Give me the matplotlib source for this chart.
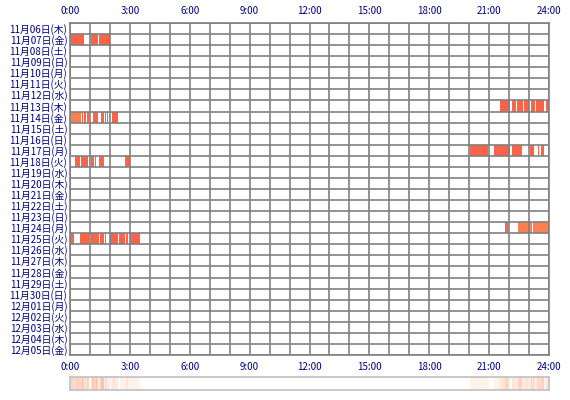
import numpy as np
import matplotlib
matplotlib.use('Agg')
import matplotlib.pyplot as plt
from matplotlib.colors import LinearSegmentedColormap
import datetime as dt

plt.rcParams['font.family'] = ['Noto Sans CJK JP', 'DejaVu Sans']

# ============ data ============
start = dt.date(2025, 11, 6)
n_days = 30
weekdays = ['月', '火', '水', '木', '金', '土', '日']
days = [start + dt.timedelta(d) for d in range(n_days)]
day_labels = [f"{d.month}月{d.day:02d}日({weekdays[d.weekday()]})" for d in days]

# sleep intervals (hours), by row index
sessions = {
    1: [(0.05, 0.7), (1.05, 1.4), (1.45, 2.0)],
    7: [(21.55, 22.03), (22.13, 22.33), (22.4, 22.7), (22.75, 23.0),
        (23.1, 23.3), (23.35, 23.73), (23.85, 23.95)],
    8: [(0.05, 0.55), (0.6, 0.65), (0.72, 0.78), (0.85, 0.93), (1.15, 1.4),
        (1.55, 1.7), (1.75, 1.8), (1.83, 1.9), (2.1, 2.4)],
    11: [(20.05, 20.97), (21.25, 22.03), (22.13, 22.63), (23.05, 23.25),
         (23.45, 23.52), (23.6, 23.75)],
    12: [(0.25, 0.5), (0.55, 0.92), (1.05, 1.2), (1.27, 1.32), (1.45, 1.7),
         (2.75, 3.0)],
    18: [(21.8, 21.93), (22.45, 23.15), (23.2, 24.0)],
    19: [(0.05, 0.18), (0.5, 0.95), (1.05, 1.43), (1.48, 1.7), (1.75, 1.82),
         (1.98, 2.28), (2.32, 2.4), (2.47, 2.73), (2.78, 2.9), (2.98, 3.48)],
}
light_rows = {(8, 0), (18, 1), (18, 2)}
tick_hours = list(range(0, 25, 3))
tick_labels = [f"{h}:00" for h in tick_hours]
# =================================

fig = plt.figure(figsize=(5.7, 4), dpi=100)
ax = fig.add_axes([0.123, 0.1125, 0.84, 0.83])

for row, segs in sessions.items():
    for i, (a, b) in enumerate(segs):
        c = '#ff7f50' if (row, i) in light_rows else '#ff6347'
        ax.barh(row, b - a, left=a, height=1.0, color=c, edgecolor='none', zorder=1)

ax.set_xlim(0, 24)
ax.set_ylim(n_days - 0.5, -0.5)
for h in range(25):
    ax.axvline(h, color='#808080', lw=1.2, zorder=2)
for r in range(n_days + 1):
    ax.axhline(r - 0.5, color='#808080', lw=1.2, zorder=2)
for s in ax.spines.values():
    s.set_color('#808080')
    s.set_linewidth(1.2)

ax.set_yticks(range(n_days))
ax.set_yticklabels(day_labels, fontsize=7, color='#000080')
ax.set_xticks(tick_hours)
ax.set_xticklabels(tick_labels, fontsize=7, color='#000080')
ax.tick_params(axis='both', length=0, pad=2)
ax.tick_params(axis='x', top=True, labeltop=True, pad=5)

# summary strip
minutes = np.arange(24 * 60)
count = np.zeros(len(minutes))
for segs in sessions.values():
    for a, b in segs:
        count[(minutes >= a * 60) & (minutes < b * 60)] += 1
sax = fig.add_axes([0.123, 0.025, 0.84, 0.0325])
cmap = LinearSegmentedColormap.from_list('s', ['#ffffff', '#ffe6d8', '#ffc0ae'])
sax.imshow(count[None, :], aspect='auto', cmap=cmap, vmin=0, vmax=count.max(),
           extent=[0, 24, 0, 1], interpolation='nearest')
sax.set_xticks([])
sax.set_yticks([])
for s in sax.spines.values():
    s.set_color('#c0c0c0')
    s.set_linewidth(1.2)

fig.savefig('out.png', dpi=100)
